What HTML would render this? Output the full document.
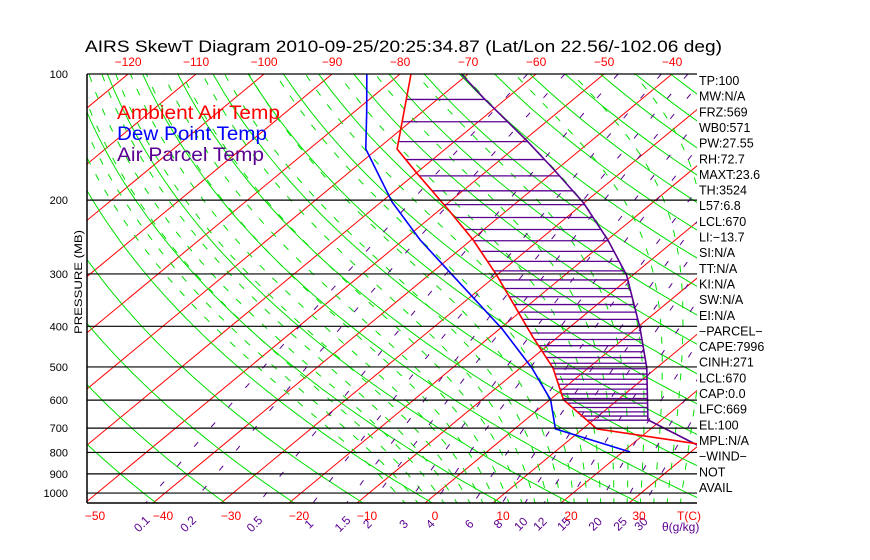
<!DOCTYPE html>
<html><head><meta charset="utf-8"><style>
html,body{margin:0;padding:0;background:#fff;}
svg{display:block;font-family:"Liberation Sans",sans-serif;}
</style></head><body>
<svg id="chart" width="870" height="560" viewBox="0 0 870 560" xmlns="http://www.w3.org/2000/svg">
<defs><clipPath id="plotclip"><rect x="87" y="74" width="610" height="429"/></clipPath></defs>
<rect x="0" y="0" width="870" height="560" fill="#fff"/>
<text x="85" y="52" font-size="17" textLength="637" lengthAdjust="spacingAndGlyphs" fill="#000">AIRS SkewT Diagram 2010-09-25/20:25:34.87 (Lat/Lon 22.56/-102.06 deg)</text>
<g id="grid" clip-path="url(#plotclip)"></g>
<g id="series" clip-path="url(#plotclip)"></g>
<g id="axes"></g>
<text x="117" y="119" font-size="19" fill="#ff0000" textLength="163" lengthAdjust="spacingAndGlyphs">Ambient Air Temp</text>
<text x="117" y="140" font-size="19" fill="#0000ff" textLength="150" lengthAdjust="spacingAndGlyphs">Dew Point Temp</text>
<text x="117" y="161" font-size="19" fill="#5a0090" textLength="147" lengthAdjust="spacingAndGlyphs">Air Parcel Temp</text>
<text transform="translate(82,282) rotate(-90)" font-size="11" text-anchor="middle" fill="#000" textLength="104" lengthAdjust="spacingAndGlyphs">PRESSURE (MB)</text>
<g id="info"></g>
</svg>
<script>
const P_AMB=[100,151,173,211,249,302,424,503,599,703,763];
const T_AMB=[-78.4,-67.1,-59.7,-48.7,-39.7,-30.0,-13.7,-5.2,2.0,12.1,29.5];
const P_DEW=[100,123,151,202,249,302,406,503,599,703,798];
const T_DEW=[-84.9,-78.2,-71.7,-58.4,-47.5,-36.5,-19.6,-8.3,0.1,6.0,21.1];
const P_PAR=[100,114,145,169,203,249,302,404,503,669,768];
const T_PAR=[-71.0,-63.5,-49.2,-40.4,-30.1,-19.9,-10.9,0.5,8.6,18.0,29.7];
const P_LEVELS=[100,200,300,400,500,600,700,800,900,1000];
const TOP_TICKS=[-120,-110,-100,-90,-80,-70,-60,-50,-40];
const BOT_TICKS=[-50,-40,-30,-20,-10,0,10,20,30];
const MIX_RATIOS=[0.1,0.2,0.5,1,1.5,2,3,4,6,8,10,12,15,20,25,30];
const INFO_LINES=["TP:100","MW:N/A","FRZ:569","WB0:571","PW:27.55","RH:72.7","MAXT:23.6","TH:3524","L57:6.8","LCL:670","LI:\u221213.7","SI:N/A","TT:N/A","KI:N/A","SW:N/A","EI:N/A","\u2212PARCEL\u2212","CAPE:7996","CINH:271","LCL:670","CAP:0.0","LFC:669","EL:100","MPL:N/A","\u2212WIND\u2212","NOT","AVAIL"];

const NS="http://www.w3.org/2000/svg";
const PBOT=100*Math.exp(429/182);
function yP(p){return 74+182*Math.log(p/100);}
function xT(T,p){return 425+6.8*T+1.21*(503-yP(p));}
function mk(tag,attrs,parent){const e=document.createElementNS(NS,tag);for(const k in attrs)e.setAttribute(k,attrs[k]);parent.appendChild(e);return e;}
const grid=document.getElementById('grid'),series=document.getElementById('series'),axes=document.getElementById('axes'),info=document.getElementById('info');

for(let T=-180;T<=50;T+=10){
  const l=mk('line',{x1:xT(T,PBOT),y1:503,x2:xT(T,100),y2:74,stroke:'#ff0000','stroke-width':1},grid);
  
  
}
for(let th=200;th<=720;th+=10){
  let d='';
  for(let p=100;p<=PBOT+10;p+=10){const T=th*Math.pow(p/1000,0.286)-273.15;d+=(d?'L':'M')+xT(T,p).toFixed(1)+' '+yP(p).toFixed(1);}
  const e=mk('path',{d:d,fill:'none',stroke:'#00e000','stroke-width':1},grid);
  
  
}
function es(T){return 6.112*Math.exp(17.67*T/(T+243.5));}
function step(T,p){const e=es(T-273.15),rs=0.622*e/(p-e),L=2.5e6,Rd=287,cp=1004;return (Rd*T+L*rs)/(p*(cp+L*L*rs*0.622/(Rd*T*T)));}
for(let tw=-6;tw<=36;tw+=2){
  let T=tw+273.15,pts=[];
  for(let p=1000;p>=100;p-=5){pts.push([p,T-273.15]);T-=step(T,p)*5;}
  let T2=tw+273.15;const lo=[];
  for(let p=1000;p<=1070;p+=5){lo.unshift([p,T2-273.15]);T2+=step(T2,p)*5;}
  const all=lo.concat(pts.slice(1));
  let d='';all.forEach(q=>{d+=(d?'L':'M')+xT(q[1],q[0]).toFixed(1)+' '+yP(q[0]).toFixed(1);});
  const e=mk('path',{d:d,fill:'none',stroke:'#00e000','stroke-width':1,'stroke-dasharray':'7 11'},grid);
  
  
}
function tw(w,p){const e=w*p/(622+w);const a=Math.log(e/6.112);return 243.5*a/(17.67-a);}
MIX_RATIOS.forEach(w=>{
  let d='';
  for(let p=100;p<=PBOT+5;p+=10){d+=(d?'L':'M')+xT(tw(w,p),p).toFixed(1)+' '+yP(p).toFixed(1);}
  const e=mk('path',{d:d,fill:'none',stroke:'#5a0090','stroke-width':1,'stroke-dasharray':'6 20'},grid);
  
  
  const x=xT(tw(w,PBOT),PBOT)-4;
  const t=mk('text',{x:x,y:528,'font-size':12,fill:'#5a0090','text-anchor':'middle',transform:'rotate(-45 '+x+' 524)'},axes);
  t.textContent=String(w);
  
  
});
P_LEVELS.forEach(p=>{
  const y=yP(p);
  const l=mk('line',{x1:87,y1:y,x2:697,y2:y,stroke:'#000','stroke-width':1.2},axes);
  
  
  const t=mk('text',{x:68,y:y+4,'font-size':11,'text-anchor':'end',fill:'#000'},axes);
  t.textContent=String(p);
  
  
});
mk('line',{x1:87,y1:74,x2:87,y2:503,stroke:'#000','stroke-width':1.5},axes);
mk('line',{x1:87,y1:503,x2:697,y2:503,stroke:'#000','stroke-width':1.5},axes);
TOP_TICKS.forEach(T=>{
  const t=mk('text',{x:xT(T,100),y:66,'font-size':12,'text-anchor':'middle',fill:'#ff0000'},axes);
  t.textContent=T<0?'\u2212'+Math.abs(T):String(T);
  
  
});
BOT_TICKS.forEach(T=>{
  const t=mk('text',{x:xT(T,PBOT)+10,y:520,'font-size':12,'text-anchor':'middle',fill:'#ff0000'},axes);
  t.textContent=T<0?'\u2212'+Math.abs(T):String(T);
  
  
});
const tc=mk('text',{x:677,y:520,'font-size':12,fill:'#ff0000'},axes);tc.textContent='T(C)';

const gk=mk('text',{x:662,y:531,'font-size':12,fill:'#5a0090'},axes);gk.textContent='\u03b8(g/kg)';


function interp(P,T,p){
  for(let i=0;i<P.length-1;i++){if(p>=P[i]&&p<=P[i+1]){const f=(Math.log(p)-Math.log(P[i]))/(Math.log(P[i+1])-Math.log(P[i]));return T[i]+f*(T[i+1]-T[i]);}}
  return null;
}
for(let p=115;p<=670;p+=15){
  const a=interp(P_AMB,T_AMB,p),b=interp(P_PAR,T_PAR,p);
  if(a===null||b===null||b<=a)continue;
  const l=mk('line',{x1:xT(a,p),y1:yP(p),x2:xT(b,p),y2:yP(p),stroke:'#5a0090','stroke-width':1.3},series);
  
  
}
function curve(P,T,color,name){
  let d='';P.forEach((p,i)=>{d+=(i?'L':'M')+xT(T[i],p).toFixed(1)+' '+yP(p).toFixed(1);});
  const e=mk('path',{d:d,fill:'none',stroke:color,'stroke-width':1.6},series);
  
  
}
curve(P_PAR,T_PAR,'#5a0090','parcel-temp-line');
curve(P_DEW,T_DEW,'#0000ff','dewpoint-line');
curve(P_AMB,T_AMB,'#ff0000','ambient-temp-line');

INFO_LINES.forEach((s,i)=>{
  const t=mk('text',{x:699,y:85+i*15.65,'font-size':12.5,fill:'#000'},info);
  t.textContent=s;
  
  
});
</script>
</body></html>
